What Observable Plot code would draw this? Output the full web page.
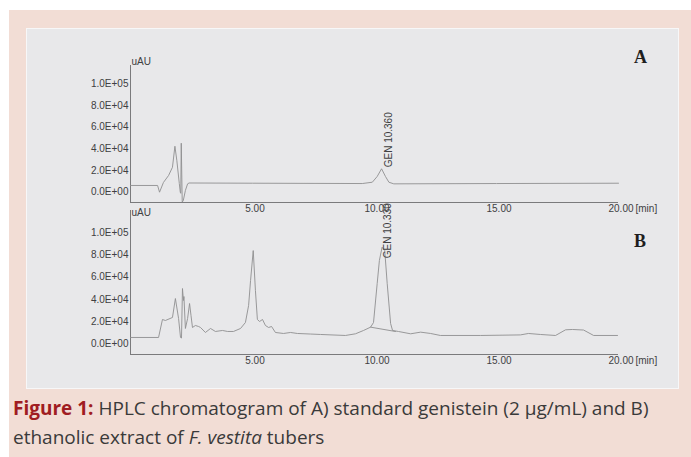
<!DOCTYPE html>
<html><head><meta charset="utf-8">
<script src="https://cdn.jsdelivr.net/npm/d3@7"></script>
<script src="https://cdn.jsdelivr.net/npm/@observablehq/plot@0.6"></script>
<style>
html,body{margin:0;padding:0;background:#fff;}
#page{position:relative;width:691px;height:457px;overflow:hidden;background:#fff;}
#pink{position:absolute;left:9px;top:10px;width:682px;height:447px;background:#f2ddd5;}
#scan{position:absolute;left:26px;top:28px;width:651px;height:359px;background:#e8e8ea;border:1px solid #f7f7f8;}
#page svg{position:absolute;left:0;top:0;}
.letter{position:absolute;font-family:"Liberation Serif","Times New Roman",serif;font-weight:bold;font-size:18px;color:#1e1e1e;line-height:18px;}
#caption{position:absolute;left:13px;top:394px;width:678px;font-family:"Open Sans",sans-serif;font-size:19px;line-height:29px;color:#3a3a3a;white-space:nowrap;letter-spacing:0px;}
#caption b{color:#a01c22;}
</style></head>
<body>
<div id="page">
  <div id="pink"></div>
  <div id="scan"></div>
  <div class="letter" style="left:634px;top:48px;">A</div>
  <div class="letter" style="left:634px;top:232px;">B</div>
  <div id="caption"><b>Figure 1:</b> HPLC chromatogram of A) standard genistein (2 µg/mL) and B)<br>ethanolic extract of <i>F. vestita</i> tubers</div>
</div>
<script>
// ---- data ----
const xTicks = [5, 10, 15, 20];
const xTickLabels = ["5.00", "10.00", "15.00", "20.00"];
const yTicks = [0, 20000, 40000, 60000, 80000, 100000];
const yTickLabels = ["0.0E+00", "2.0E+04", "4.0E+04", "6.0E+04", "8.0E+04", "1.0E+05"];

// Panel A: standard genistein
const timeA = [0, 1.11, 1.19, 1.35, 1.56, 1.72, 1.82, 1.90, 2.00, 2.04, 2.06, 2.08, 2.12, 2.16, 2.25, 2.34, 2.40, 5.0, 9.5, 9.91, 10.11, 10.29, 10.45, 10.59, 10.79, 15.0, 20.0];
const uauA  = [6200, 6200, 0, 9000, 15400, 23000, 42400, 29000, 8000, 0, -1000, 45200, -9000, -8000, 1600, 7700, 8500, 8300, 8000, 9200, 14500, 21600, 14500, 9200, 7700, 8000, 8300];

// Panel B: ethanolic extract
const timeB = [0, 1.15, 1.31, 1.43, 1.72, 1.84, 1.97, 2.05, 2.09, 2.13, 2.17, 2.19, 2.25, 2.34, 2.42, 2.48, 2.54, 2.66, 2.79, 2.87, 3.07, 3.28, 3.48, 3.77, 3.98, 4.22, 4.51, 4.71, 4.84, 4.92, 5.03, 5.12, 5.20, 5.29, 5.41, 5.53, 5.66, 5.78, 5.94, 6.27, 6.56, 6.84, 7.38, 7.79, 8.81, 9.22, 9.55, 9.84, 9.96, 10.11, 10.20, 10.31, 10.42, 10.52, 10.66, 10.74, 10.98, 11.48, 11.89, 12.30, 12.70, 14.34, 15.98, 16.31, 16.80, 17.42, 17.83, 18.11, 18.57, 18.98, 19.96];
const uauB  = [5700, 5700, 21900, 21000, 23700, 40800, 22800, 5700, 5200, 49800, 39000, 42600, 13800, 22800, 36300, 25500, 14700, 16500, 15600, 14700, 10200, 13800, 11100, 12000, 11100, 11100, 13800, 19200, 34500, 57000, 84000, 48000, 21900, 20100, 21900, 16500, 14700, 15600, 10200, 9300, 10200, 9300, 8800, 8400, 7500, 9000, 12000, 15000, 19200, 54300, 75000, 87000, 84000, 54300, 18300, 12000, 11100, 9000, 10500, 9300, 7500, 7500, 8000, 9300, 8400, 7500, 12600, 12900, 12400, 7500, 7500];

// integration baseline under the genistein peak in B
const baseTimeB = [9.84, 10.86];
const baseUauB  = [15000, 11100];

// peak annotations
const peakA = {time: 10.36, uau: 21600, label: "GEN 10.360"};
const peakB = {time: 10.33, uau: 87000, label: "GEN 10.330"};

// ---- drawing ----
const ink = "#404042";
const trace = "#8e8e90";
const axisInk = "#7a7a7c";
const fmtX = d => xTickLabels[xTicks.indexOf(d)];
const fmtY = d => yTickLabels[yTicks.indexOf(d)];

function panel({yDomain, marginTop, marginBottom, time, uau, peak, peakDy, uauDy, extra = []}) {
  return Plot.plot({
    width: 691,
    height: 380,
    marginLeft: 130,
    marginRight: 73,
    marginTop,
    marginBottom,
    style: {background: "transparent", color: ink, fontFamily: "'Liberation Sans', Arial, sans-serif", fontSize: "10px"},
    x: {domain: [0, 20], label: null},
    y: {domain: yDomain, label: null},
    marks: [
      Plot.ruleX([0], {stroke: axisInk, strokeWidth: 1}),
      Plot.ruleY([yDomain[0]], {stroke: axisInk, strokeWidth: 1}),
      Plot.axisY(yTicks, {tickSize: 0, tickPadding: 2, tickFormat: fmtY, label: null, fontSize: 10}),
      Plot.axisX(xTicks, {tickSize: 0, tickPadding: 2.5, dx: 2.5, tickFormat: fmtX, label: null, fontSize: 10}),
      Plot.text(["[min]"], {x: () => 20, y: () => yDomain[0], text: d => d, textAnchor: "start", lineAnchor: "top", dx: 17, dy: 2.5, fontSize: 10}),
      Plot.text(["uAU"], {x: () => 0, y: () => yDomain[1], text: d => d, textAnchor: "start", dx: 1, dy: uauDy, fontSize: 10}),
      Plot.line({length: time.length}, {x: time, y: uau, stroke: trace, strokeWidth: 0.9}),
      ...extra,
      Plot.text([peak], {x: "time", y: "uau", text: "label", rotate: -90, textAnchor: "start", dx: 5.5, dy: peakDy, fontSize: 10})
    ]
  });
}

const page = document.getElementById("page");
page.append(panel({yDomain: [-9500, 116900], marginTop: 65, marginBottom: 178, time: timeA, uau: uauA, peak: peakA, peakDy: -1.5, uauDy: -4}));
page.append(panel({
  yDomain: [-9640, 120100], marginTop: 210, marginBottom: 26, time: timeB, uau: uauB, peak: peakB, peakDy: 11, uauDy: 2,
  extra: [Plot.line({length: baseTimeB.length}, {x: baseTimeB, y: baseUauB, stroke: trace, strokeWidth: 0.9})]
}));
// keep panel letters and caption above the plots
for (const el of page.querySelectorAll(".letter, #caption")) page.append(el);
</script>
</body></html>
